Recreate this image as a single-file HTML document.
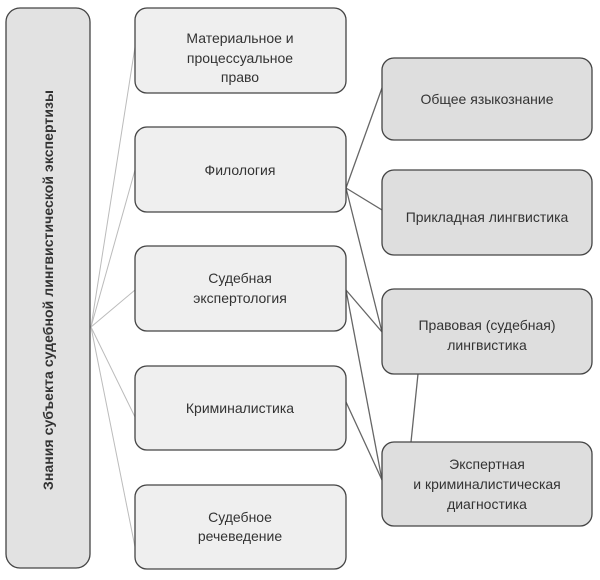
<!DOCTYPE html>
<html><head><meta charset="utf-8"><style>
body{margin:0;background:#fff;width:600px;height:575px;overflow:hidden;font-family:"Liberation Sans","DejaVu Sans",sans-serif}
</style></head><body>
<svg width="600" height="575" xmlns="http://www.w3.org/2000/svg" font-family="'Liberation Sans','DejaVu Sans',sans-serif" font-size="14" fill="#333">
<g stroke="#bbb" stroke-width="1">
<line x1="91" y1="327" x2="135" y2="47"/>
<line x1="91" y1="327" x2="135" y2="170"/>
<line x1="91" y1="327" x2="135" y2="290"/>
<line x1="91" y1="327" x2="135" y2="417"/>
<line x1="91" y1="327" x2="135" y2="547"/>
</g>
<g stroke="#666" stroke-width="1.3">
<line x1="346" y1="188" x2="382" y2="88"/>
<line x1="346" y1="188" x2="382" y2="210"/>
<line x1="346" y1="188" x2="382" y2="332"/>
<line x1="346" y1="290" x2="382" y2="332"/>
<line x1="346" y1="290" x2="382" y2="480"/>
<line x1="346" y1="402" x2="382" y2="480"/>
<line x1="418" y1="374" x2="411" y2="442"/>
</g>
<g stroke="#444" stroke-width="1.3">
<rect x="6" y="8" width="84" height="560" rx="14" fill="#e2e2e2"/>
<rect x="135" y="8" width="211" height="85" rx="12" fill="#efefef"/>
<rect x="135" y="127" width="211" height="85" rx="12" fill="#efefef"/>
<rect x="135" y="246" width="211" height="85" rx="12" fill="#efefef"/>
<rect x="135" y="366" width="211" height="84" rx="12" fill="#efefef"/>
<rect x="135" y="485" width="211" height="84" rx="12" fill="#efefef"/>
<rect x="382" y="58" width="210" height="82" rx="12" fill="#dedede"/>
<rect x="382" y="170" width="210" height="85" rx="12" fill="#dedede"/>
<rect x="382" y="289" width="210" height="85" rx="12" fill="#dedede"/>
<rect x="382" y="442" width="210" height="84" rx="12" fill="#dedede"/>
</g>
<text transform="translate(53,290) rotate(-90)" text-anchor="middle" font-weight="bold" font-size="14" textLength="400" lengthAdjust="spacing">Знания субъекта судебной лингвистической экспертизы</text>
<g text-anchor="middle">
<text x="240" y="43">Материальное и</text>
<text x="240" y="63">процессуальное</text>
<text x="240" y="82">право</text>
<text x="240" y="175">Филология</text>
<text x="240" y="283">Судебная</text>
<text x="240" y="303">экспертология</text>
<text x="240" y="413">Криминалистика</text>
<text x="240" y="522">Судебное</text>
<text x="240" y="541">речеведение</text>
<text x="487" y="104">Общее языкознание</text>
<text x="487" y="222">Прикладная лингвистика</text>
<text x="487" y="330">Правовая (судебная)</text>
<text x="487" y="350">лингвистика</text>
<text x="487" y="469">Экспертная</text>
<text x="487" y="489">и криминалистическая</text>
<text x="487" y="509">диагностика</text>
</g>
</svg>
</body></html>
